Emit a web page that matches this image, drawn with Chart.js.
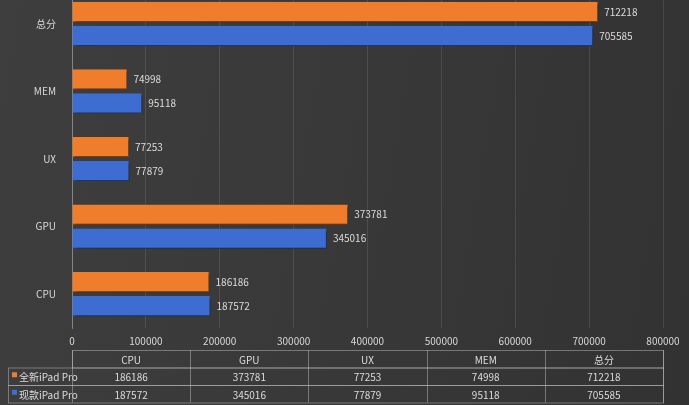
<!DOCTYPE html>
<html>
<head>
<meta charset="utf-8">
<script src="https://cdn.jsdelivr.net/npm/chart.js@4"></script>
<style>
html, body { margin: 0; padding: 0; }
body { width: 689px; height: 405px; overflow: hidden;
  background: linear-gradient(100deg, #3e3e3e 0%, #393939 45%, #323232 100%); }
#wrap { position: relative; width: 689px; height: 405px; overflow: hidden; }
#myChart { position: absolute; left: 0; top: -24px; }
</style>
</head>
<body>
<div id="wrap"><canvas id="myChart" width="689" height="429"></canvas></div>
<script>
// categories top -> bottom as shown on the y axis
var categorias = ['总分', 'MEM', 'UX', 'GPU', 'CPU'];
var nuevoIpad = [712218, 74998, 77253, 373781, 186186];
var actualIpad = [705585, 95118, 77879, 345016, 187572];
var serieNombres = ['全新iPad Pro', '现款iPad Pro'];
var tablaCols = ['CPU', 'GPU', 'UX', 'MEM', '总分'];
var ticksX = [0, 100000, 200000, 300000, 400000, 500000, 600000, 700000, 800000];

var desplazamiento = 24; // canvas sits this many px above the page top
var colorNaranja = '#f07d2b';
var colorAzul = '#3e6dd2';
var fuente = '"Noto Sans CJK SC", "Noto Sans", sans-serif';

// soft shadow under the bars
var sombra = {
    id: 'sombra',
    beforeDatasetsDraw: function (chart) {
        var ctx = chart.ctx;
        ctx.save();
        ctx.shadowColor = 'rgba(0,0,0,0.45)';
        ctx.shadowBlur = 3;
        ctx.shadowOffsetX = 2;
        ctx.shadowOffsetY = 2;
    },
    afterDatasetsDraw: function (chart) {
        chart.ctx.restore();
    }
};

// value labels at the end of each bar
var etiquetas = {
    id: 'etiquetas',
    afterDatasetsDraw: function (chart) {
        var ctx = chart.ctx;
        ctx.save();
        ctx.font = '10px ' + fuente;
        ctx.fillStyle = '#dcdcdc';
        ctx.textBaseline = 'middle';
        chart.data.datasets.forEach(function (ds, i) {
            chart.getDatasetMeta(i).data.forEach(function (bar, j) {
                ctx.fillText(String(ds.data[j]), bar.x + 6, bar.y);
            });
        });
        ctx.restore();
    }
};

// data table under the chart
var tabla = {
    id: 'tabla',
    afterDraw: function (chart) {
        var ctx = chart.ctx;
        var a = chart.chartArea;
        var x0 = a.left, x1 = a.right;
        var w = (x1 - x0) / tablaCols.length;
        var top = 350 + desplazamiento, h = 17.5;
        var filas = [nuevoIpad, actualIpad];
        ctx.save();
        ctx.strokeStyle = 'rgba(200,200,200,0.45)';
        ctx.lineWidth = 1;
        ctx.strokeRect(Math.round(x0) + 0.5, top + 0.5, Math.round(x1 - x0), h);
        for (var r = 0; r < 2; r++) {
            ctx.strokeRect(8.5, top + h * (r + 1) + 0.5, Math.round(x1) - 8, h);
        }
        for (var c = 0; c <= tablaCols.length; c++) {
            var xx = Math.round(x0 + c * w) + 0.5;
            ctx.beginPath();
            ctx.moveTo(xx, top);
            ctx.lineTo(xx, top + h * 3);
            ctx.stroke();
        }
        ctx.font = '10px ' + fuente;
        ctx.fillStyle = '#dcdcdc';
        ctx.textBaseline = 'middle';
        ctx.textAlign = 'center';
        tablaCols.forEach(function (col, c) {
            ctx.fillText(col, x0 + w * (c + 0.5), top + h / 2 + 1);
            var k = categorias.indexOf(col);
            filas.forEach(function (fila, r) {
                ctx.fillText(String(fila[k]), x0 + w * (c + 0.5), top + h * (r + 1.5) + 1);
            });
        });
        ctx.textAlign = 'left';
        [colorNaranja, colorAzul].forEach(function (col, r) {
            var yy = top + h * (r + 1.5);
            ctx.fillStyle = col;
            ctx.fillRect(12, yy - 4, 5, 5);
            ctx.fillStyle = '#dcdcdc';
            ctx.fillText(serieNombres[r], 19, yy + 1);
        });
        ctx.restore();
    }
};

var ctx = document.getElementById('myChart');
var myChart = new Chart(ctx, {
    type: 'bar',
    data: {
        labels: categorias,
        datasets: [{
            label: serieNombres[0],
            data: nuevoIpad,
            backgroundColor: colorNaranja,
            borderColor: '#b4561a',
            borderWidth: { right: 1, bottom: 1 },
            borderSkipped: false
        }, {
            label: serieNombres[1],
            data: actualIpad,
            backgroundColor: colorAzul,
            borderColor: '#2a4d9c',
            borderWidth: { right: 1, bottom: 1 },
            borderSkipped: false
        }]
    },
    options: {
        indexAxis: 'y',
        responsive: false,
        animation: false,
        devicePixelRatio: 1,
        categoryPercentage: 0.71,
        barPercentage: 0.84,
        layout: { padding: { top: 0, bottom: 55, left: 0, right: 26 } },
        plugins: { legend: { display: false }, tooltip: { enabled: false } },
        scales: {
            x: {
                min: 0, max: 800000,
                afterBuildTicks: function (axis) {
                    axis.ticks = ticksX.map(function (v) { return { value: v }; });
                },
                afterFit: function (axis) { axis.height = 22; },
                grid: { color: 'rgba(255,255,255,0.1)', drawTicks: false },
                border: { display: false },
                ticks: {
                    color: '#d8d8d8', font: { size: 10, family: fuente }, padding: 7,
                    maxRotation: 0, autoSkip: false,
                    callback: function (v) { return String(v); }
                }
            },
            y: {
                afterFit: function (axis) { axis.width = 72; },
                grid: { display: false },
                border: { color: 'rgba(255,255,255,0.3)' },
                ticks: { color: '#d8d8d8', font: { size: 10, family: fuente }, padding: 8, autoSkip: false }
            }
        }
    },
    plugins: [sombra, etiquetas, tabla]
});
</script>
</body>
</html>
